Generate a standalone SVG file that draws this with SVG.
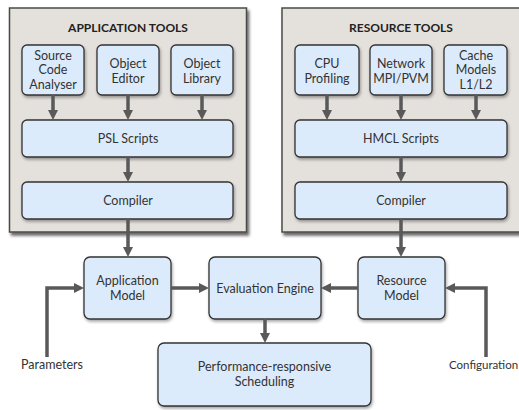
<svg xmlns="http://www.w3.org/2000/svg" width="519" height="410" viewBox="0 0 519 410">
<style>
.outer{fill:#e4e0dc;stroke:#4a4a4a;stroke-width:1.5;filter:url(#sh)}
.box{fill:#dcebfc;stroke:#333;stroke-width:1.3;filter:url(#sh2)}
text{font-family:Lato,"Open Sans","Liberation Sans",sans-serif;font-size:12.5px;fill:#333;text-anchor:middle}
.title{font-weight:bold;font-size:12px;fill:#222}
.lab{text-anchor:start}
.con{fill:none;stroke:#595959;stroke-width:3.5;marker-end:url(#ah)}
</style>
<defs>
<filter id="sh" x="-10%" y="-10%" width="130%" height="130%"><feDropShadow dx="2" dy="3" stdDeviation="1.5" flood-color="#000" flood-opacity="0.6"/></filter>
<filter id="sh2" x="-10%" y="-10%" width="130%" height="130%"><feDropShadow dx="1" dy="2" stdDeviation="1.5" flood-color="#000" flood-opacity="0.35"/></filter>
<marker id="ah" viewBox="0 0 10 10" markerWidth="10" markerHeight="10" refX="2" refY="5" markerUnits="userSpaceOnUse" orient="auto"><path d="M0,0 L10,5 L0,10 z" fill="#595959"/></marker>
</defs>
<g id="application-tools">
<rect class="outer" x="9.5" y="8" width="237" height="224"/>
<text class="title" x="128" y="32">APPLICATION TOOLS</text>
</g>
<g id="resource-tools">
<rect class="outer" x="282" y="8" width="242" height="224"/>
<text class="title" x="401" y="32">RESOURCE TOOLS</text>
</g>
<g id="source-code-analyser"><rect class="box" x="22" y="45" width="62" height="50" rx="5"/><text x="53" y="59.5">Source</text><text x="53" y="74">Code</text><text x="53" y="88.5">Analyser</text></g>
<g id="object-editor"><rect class="box" x="97" y="45" width="62" height="50" rx="5"/><text x="128" y="67.5">Object</text><text x="128" y="82.5">Editor</text></g>
<g id="object-library"><rect class="box" x="171" y="45" width="62" height="50" rx="5"/><text x="202" y="67.5">Object</text><text x="202" y="82.5">Library</text></g>
<g id="psl-scripts"><rect class="box" x="22" y="120" width="211" height="37" rx="5"/><text x="128" y="143">PSL Scripts</text></g>
<g id="compiler-app"><rect class="box" x="22" y="182" width="211" height="37" rx="5"/><text x="128" y="205">Compiler</text></g>
<g id="cpu-profiling"><rect class="box" x="295" y="45" width="64" height="50" rx="5"/><text x="327" y="67.5">CPU</text><text x="327" y="82.5">Profiling</text></g>
<g id="network"><rect class="box" x="370" y="45" width="62" height="50" rx="5"/><text x="401" y="67.5">Network</text><text x="401" y="82.5">MPI/PVM</text></g>
<g id="cache-models"><rect class="box" x="444" y="45" width="63" height="50" rx="5"/><text x="476" y="59.5">Cache</text><text x="476" y="74">Models</text><text x="476" y="88.5">L1/L2</text></g>
<g id="hmcl-scripts"><rect class="box" x="295" y="120" width="212" height="37" rx="5"/><text x="401" y="143">HMCL Scripts</text></g>
<g id="compiler-res"><rect class="box" x="295" y="182" width="212" height="37" rx="5"/><text x="401" y="205">Compiler</text></g>
<g id="application-model"><rect class="box" x="84" y="257" width="87" height="62" rx="6"/><text x="127.5" y="285">Application</text><text x="127.5" y="299.5">Model</text></g>
<g id="evaluation-engine"><rect class="box" x="209" y="257" width="112" height="62" rx="6"/><text x="265" y="292.5">Evaluation Engine</text></g>
<g id="resource-model"><rect class="box" x="358" y="257" width="87" height="62" rx="6"/><text x="401.5" y="285">Resource</text><text x="401.5" y="299.5">Model</text></g>
<g id="scheduling"><rect class="box" x="158" y="343" width="213" height="63" rx="6"/><text x="264.5" y="371">Performance-responsive</text><text x="264.5" y="386">Scheduling</text></g>
<g id="parameters"><text class="lab" x="21" y="368.5">Parameters</text></g>
<g id="configuration"><text class="lab" x="449" y="368.5" style="font-size:11.5px">Configuration</text></g>
<g id="connectors">
<path class="con" d="M53,95 V112"/>
<path class="con" d="M128,95 V112"/>
<path class="con" d="M202,95 V112"/>
<path class="con" d="M327,95 V112"/>
<path class="con" d="M401,95 V112"/>
<path class="con" d="M476,95 V112"/>
<path class="con" d="M128,157 V174"/>
<path class="con" d="M401,157 V174"/>
<path class="con" d="M128,219 V249"/>
<path class="con" d="M401,219 V249"/>
<path class="con" d="M171,288 H201"/>
<path class="con" d="M358,288 H329"/>
<path class="con" d="M265,319 V335"/>
<path class="con" d="M47,357 V288 H76"/>
<path class="con" d="M486,357 V288 H453"/>
</g>
</svg>
